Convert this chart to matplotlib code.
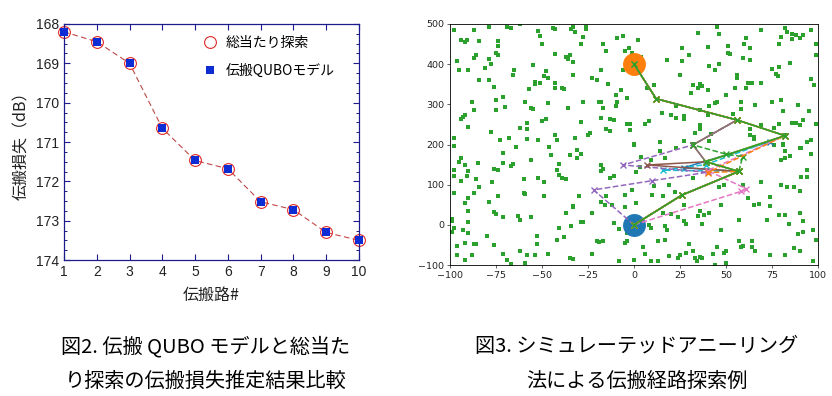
import numpy as np
import matplotlib.pyplot as plt
from matplotlib.ticker import MultipleLocator

plt.rcParams['font.family'] = ['Noto Sans CJK JP', 'DejaVu Sans']

# left chart: propagation loss per path
path_no = [1, 2, 3, 4, 5, 6, 7, 8, 9, 10]
loss_exhaustive = [168.2, 168.45, 169.0, 170.65, 171.47, 171.68, 172.52, 172.72, 173.3, 173.5]
loss_qubo = [168.2, 168.45, 169.0, 170.65, 171.47, 171.68, 172.52, 172.72, 173.3, 173.5]

# right chart: obstacles, start / goal, searched routes
obstacles = [
    (-98, 484), (-87, 484), (-79, 493), (-69, 493), (-67, 490), (-62, 499), (-52, 482), (-51, 470),
    (-44, 490), (-43, 487), (-34, 488), (-94, 459), (-91, 459), (-92, 454), (-84, 457), (-74, 457),
    (-74, 445), (-50, 451), (-75, 429), (-74, 424), (-86, 422), (-87, 416), (-79, 412), (-78, 401),
    (-43, 426), (-37, 418), (-36, 412), (-35, 422), (-96, 407), (-55, 399), (-81, 390), (-95, 385),
    (-90, 385), (-65, 385), (-66, 372), (-48, 382), (-49, 371), (-47, 366), (-33, 374), (-84, 360),
    (-79, 360), (-54, 356), (-54, 351), (-51, 353), (-43, 354), (-76, 343), (-57, 339), (-43, 341),
    (-39, 341), (-38, 337), (-71, 318), (-75, 310), (-88, 306), (-59, 306), (-47, 303), (-70, 293),
    (-56, 291), (-55, 288), (-87, 285), (-75, 285), (-36, 291), (-92, 273), (-93, 268), (-94, 264),
    (-48, 263), (-50, 258), (-58, 254), (-90, 244), (-62, 241), (-58, 238), (-78, 231), (-43, 224),
    (-98, 216), (-73, 212), (-68, 216), (-58, 214), (-52, 212), (-42, 212),
    (-33, 493), (-32, 480), (-26, 493), (-26, 487), (-28, 468), (-29, 449), (-17, 451), (-9, 464),
    (-6, 470), (2, 459), (-15, 434), (-5, 432), (-3, 440), (-1, 429), (4, 418), (26, 440),
    (30, 424), (-33, 405), (18, 410), (26, 407), (-33, 374), (-6, 385), (-18, 385), (-23, 366),
    (-20, 360), (-14, 351), (11, 347), (7, 341), (-7, 335), (-10, 324), (-4, 316), (25, 374),
    (32, 347), (31, 328), (-28, 306), (-19, 307), (-18, 307), (-9, 306), (-10, 297), (-17, 291),
    (23, 296), (15, 279), (20, 273), (23, 267), (27, 271), (27, 263), (-18, 266), (-13, 264),
    (-11, 262), (-29, 256), (-4, 250), (-2, 250), (6, 250), (8, 258), (-15, 239), (-13, 234),
    (-2, 237), (-24, 229), (-25, 223), (-32, 217), (0, 202), (14, 206), (27, 209), (33, 229),
    (32, 202),
    (45, 493), (46, 474), (35, 478), (69, 484), (82, 490), (83, 480), (86, 476), (88, 473),
    (92, 472), (96, 484), (80, 468), (86, 462), (90, 464), (79, 451), (61, 464), (60, 451),
    (63, 440), (40, 443), (51, 445), (52, 426), (51, 429), (59, 415), (63, 410), (99, 451),
    (99, 422), (85, 404), (41, 395), (46, 401), (44, 385), (79, 393), (75, 389), (77, 376),
    (78, 371), (56, 374), (56, 366), (96, 364), (98, 349), (36, 351), (37, 346), (35, 341),
    (40, 335), (62, 353), (64, 354), (69, 354), (55, 341), (61, 341), (50, 322), (45, 307),
    (44, 303), (41, 297), (58, 307), (66, 299), (75, 307), (80, 310), (89, 299), (36, 285),
    (58, 289), (81, 283), (95, 283), (40, 273), (54, 277), (69, 249), (79, 252), (86, 254),
    (88, 254), (90, 248), (92, 260), (36, 249), (36, 238), (42, 227), (41, 209), (63, 239),
    (63, 224), (65, 219), (65, 213), (76, 241), (99, 252), (82, 223), (94, 205), (96, 210),
    (81, 202),
    (-98, 197), (-94, 166), (-95, 156), (-92, 150), (-98, 137), (-90, 133), (-98, 121), (-94, 110),
    (-91, 121), (-86, 115), (-85, 154), (-71, 179), (-71, 154), (-64, 195), (-56, 162), (-46, 195),
    (-45, 173), (-35, 173), (-41, 152), (-42, 137), (-41, 123), (-39, 116), (-37, 115), (-52, 117),
    (-60, 115), (-49, 107), (-76, 140), (-74, 137), (-67, 147), (-66, 152), (-77, 107), (-84, 93),
    (-98, 79), (-87, 79), (-90, 68), (-92, 54), (-74, 73), (-60, 79), (-59, 77), (-49, 71),
    (-79, 57), (-90, 35), (-76, 32), (-75, 27), (-71, 19), (-63, 21), (-62, 13), (-56, 19),
    (-37, 29), (-33, 44), (-99, 14), (-90, 7), (-99, 9), (-98, -9), (-99, -18), (-93, -12),
    (-90, -20), (-80, -29), (-41, -9), (-34, -4), (-53, -29), (-38, -31), (-42, -37), (-96, -52),
    (-92, -44), (-87, -47), (-86, -48), (-76, -50), (-53, -47), (-96, -74), (-92, -87), (-88, -74),
    (-71, -72), (-69, -87), (-67, -98), (-62, -64), (-58, -76), (-54, -76), (-47, -72), (-35, -83),
    (-59, -95),
    (-31, 187), (-29, 176), (-31, 166), (0, 200), (4, 169), (9, 162), (14, 185), (17, 166),
    (23, 191), (-18, 150), (-17, 139), (-18, 133), (-11, 121), (-13, 117), (3, 144), (1, 131),
    (11, 96), (19, 100), (32, 117), (-30, 73), (-15, 73), (-18, 58), (-16, 50), (-12, 50),
    (-5, 75), (-1, 87), (1, 54), (-5, 44), (10, 75), (16, 73), (22, 81), (27, 50),
    (-33, 46), (-23, 29), (-29, 7), (-28, 7), (-34, -4), (-11, 5), (-8, -10), (8, 0),
    (9, -8), (17, -4), (18, -14), (24, 19), (27, 9), (28, 2), (16, 29), (20, 27),
    (-4, -20), (-4, -41), (-5, -45), (-20, -39), (-19, -43), (-17, -40), (-23, -72), (5, -54),
    (6, -72), (13, -41), (17, -37), (25, -74), (24, -83), (28, -70), (32, -64), (33, -83),
    (0, -87), (-8, -91), (9, -91), (13, -91), (19, -78), (30, -47), (-33, -85),
    (76, 200), (81, 200), (82, 183), (90, 191), (91, 191), (96, 177), (80, 162), (82, 166),
    (85, 172), (94, 137), (91, 118), (94, 118), (69, 107), (80, 98), (83, 93), (87, 93),
    (90, 85), (46, 93), (49, 100), (59, 100), (62, 67), (74, 69), (65, 50), (68, 52),
    (74, 46), (47, 50), (36, 34), (38, 25), (41, 29), (35, 21), (37, 3), (57, 13),
    (79, 25), (82, 25), (72, 13), (84, 3), (90, 29), (92, 10), (97, -12), (89, -22),
    (92, -19), (99, -37), (47, -14), (57, -39), (59, -52), (58, -54), (64, -39), (66, -66),
    (64, -55), (50, -64), (49, -70), (45, -54), (43, -73), (36, -81), (37, -83), (34, -91),
    (74, -76), (82, -74), (87, -58), (90, -64), (97, -89), (44, -99), (50, -95),
]
start = (0, 0)
goal = (0, 400)

routes = [
    [(0, 0), (26, 74), (57, 133), (27, 142), (74, 207), (82, 222), (56, 261), (12, 314), (0, 400)],
    [(0, 0), (26, 74), (57, 133), (16, 136), (39, 150), (82, 222)],
    [(0, 0), (-22, 87), (10, 110), (40, 131), (-6, 149), (32, 199), (56, 261)],
    [(0, 0), (26, 74), (57, 133), (39, 157), (32, 199), (56, 261), (12, 314), (0, 400)],
    [(0, 0), (26, 74), (57, 133), (7, 149), (39, 157), (82, 222), (56, 261), (12, 314), (0, 400)],
    [(0, 0), (58, 83), (61, 90), (40, 135), (82, 222)],
    [(0, 0), (26, 74), (57, 133), (39, 157), (32, 199), (56, 261), (12, 314), (0, 400)],
    [(0, 0), (26, 74), (57, 133), (39, 157), (82, 222), (56, 261), (12, 314), (0, 400)],
    [(57, 133), (59, 170), (50, 176), (32, 199)],
    [(0, 0), (26, 74), (57, 133), (40, 130), (82, 222), (56, 261), (12, 314), (0, 400)],
    [(0, 0), (26, 74), (57, 133), (39, 157), (82, 222), (56, 261), (12, 314), (0, 400)],
]
route_colors = ['C0', 'C9', 'C4', 'C3', 'C5', 'C6', 'C7', 'C8', 'C2', 'C1', 'C2']
route_styles = ['-', '--', '--', '-', '-', '--', '-', '-', '--', '--', '-']

fig = plt.figure(figsize=(8.32, 3.96), dpi=100)

# ---- left: loss comparison
ax1 = fig.add_axes([0.0769, 0.3434, 0.3546, 0.596])
edge = '#1c1c8c'
ax1.plot(path_no, loss_exhaustive, color='#c04848', lw=0.8, dashes=(5, 3), zorder=1)
ax1.plot(path_no, loss_exhaustive, 'o', mfc='none', mec='#e02828', ms=8.5, mew=0.8,
         clip_on=False, label='総当たり探索', zorder=2)
ax1.plot(path_no, loss_qubo, 's', color='#0c2cd4', ms=5.5, mew=0,
         clip_on=False, label='伝搬QUBOモデル', zorder=3)
ax1.set_xlim(1, 10)
ax1.set_ylim(174, 168)
ax1.set_xticks(path_no)
ax1.set_yticks(range(168, 175))
ax1.yaxis.set_minor_locator(MultipleLocator(0.25))
ax1.tick_params(which='both', direction='in', top=True, right=True, color=edge,
                labelcolor='#222222', labelsize=10)
ax1.tick_params(which='major', length=4, width=0.8)
ax1.tick_params(which='minor', length=2.5, width=0.7)
for lab in ax1.get_xticklabels() + ax1.get_yticklabels():
    lab.set_family('Liberation Sans')
for sp in ax1.spines.values():
    sp.set_color(edge)
    sp.set_linewidth(0.9)
ax1.set_xlabel('伝搬路#', fontsize=11.5, color='#222222', labelpad=6)
ax1.set_ylabel('伝搬損失（dB）', fontsize=11.5, color='#222222', labelpad=4)
ax1.legend(loc='upper right', bbox_to_anchor=(0.95, 0.99), frameon=False, fontsize=10,
           handletextpad=0.5, labelspacing=1.0, handlelength=1.2, borderaxespad=0.3)

# ---- right: simulated annealing route search
ax2 = fig.add_axes([0.5409, 0.3308, 0.4423, 0.6086])
obs = np.array(obstacles)
ax2.plot(obs[:, 0], obs[:, 1], 's', color='#2ca02c', ms=2.4, mew=0, zorder=1)
ax2.scatter([start[0]], [start[1]], s=240, color='C0', zorder=2)
ax2.scatter([goal[0]], [goal[1]], s=240, color='C1', zorder=2)
for r, c, ls in zip(routes, route_colors, route_styles):
    pts = np.array(r)
    ax2.plot(pts[:, 0], pts[:, 1], marker='x', ls=ls, color=c, lw=1.1, ms=5, mew=1.0, zorder=3)
ax2.set_xlim(-100, 100)
ax2.set_ylim(-100, 500)
ax2.set_xticks(range(-100, 101, 25))
ax2.set_yticks(range(-100, 501, 100))
ax2.tick_params(labelsize=6.8, length=2.5, width=0.5, pad=1.5, colors='#222222')
for lab in ax2.get_xticklabels() + ax2.get_yticklabels():
    lab.set_family('DejaVu Sans')
for sp in ax2.spines.values():
    sp.set_linewidth(0.6)

# ---- captions
fig.text(0.2476, 1 - 347 / 396, '図2. 伝搬 QUBO モデルと総当た', ha='center', va='center', fontsize=14.5)
fig.text(0.2476, 1 - 381 / 396, 'り探索の伝搬損失推定結果比較', ha='center', va='center', fontsize=14.5)
fig.text(0.7656, 1 - 347 / 396, '図3. シミュレーテッドアニーリング', ha='center', va='center', fontsize=14.5)
fig.text(0.7656, 1 - 381 / 396, '法による伝搬経路探索例', ha='center', va='center', fontsize=14.5)

fig.savefig('out.png', dpi=100)
